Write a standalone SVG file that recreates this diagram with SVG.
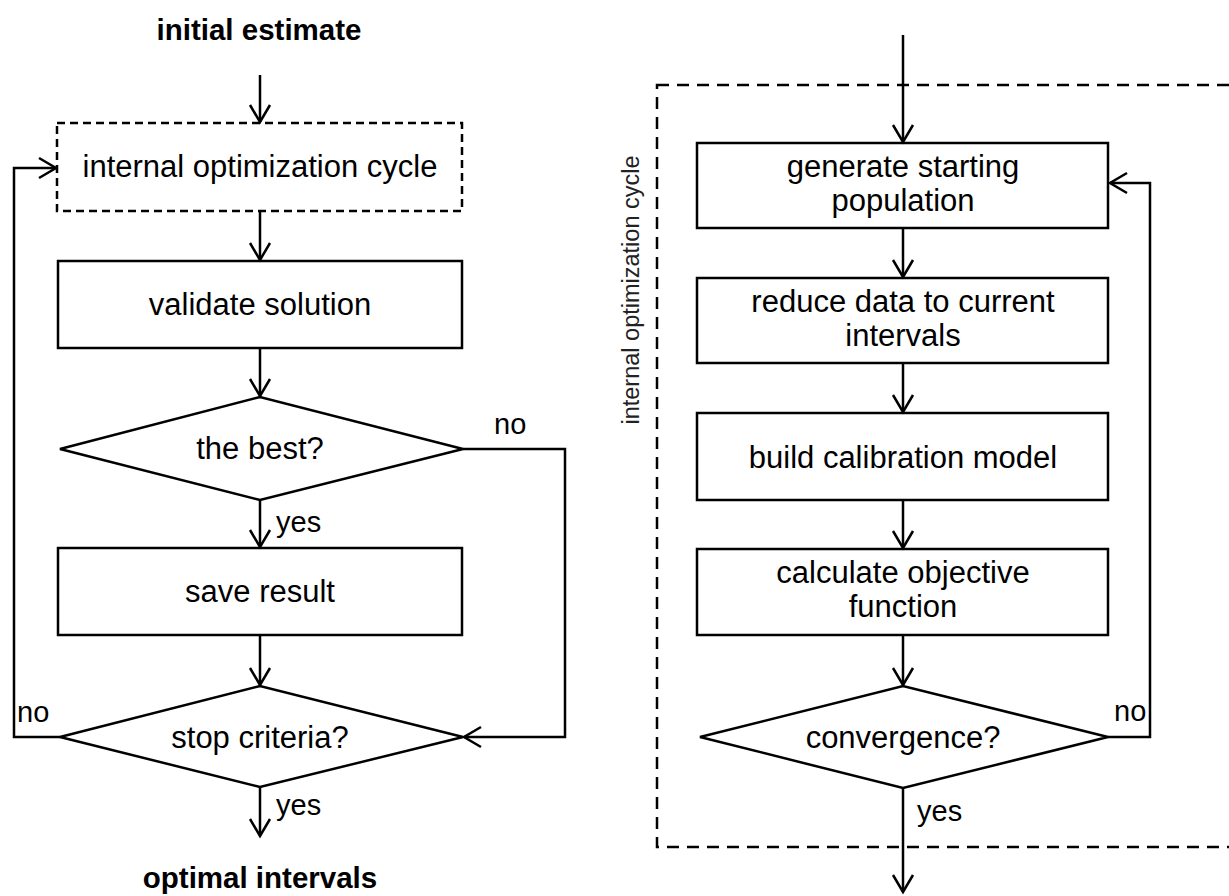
<svg xmlns="http://www.w3.org/2000/svg" width="1229" height="896" viewBox="0 0 1229 896">
<style>
.box{fill:#fff;stroke:#000;stroke-width:2.5}
.dash{fill:none;stroke:#000;stroke-width:2.5;stroke-dasharray:8 5}
.bigdash{fill:none;stroke:#000;stroke-width:2.5;stroke-dasharray:12 8}
.t{font-family:"Liberation Sans",Arial,sans-serif;font-size:31px;fill:#000;text-anchor:middle}
.b{font-family:"Liberation Sans",Arial,sans-serif;font-size:29.5px;font-weight:bold;fill:#000;text-anchor:middle}
.lab{font-family:"Liberation Sans",Arial,sans-serif;font-size:29px;fill:#000}
.rot{font-family:"Liberation Sans",Arial,sans-serif;font-size:23.5px;fill:#222;text-anchor:middle}
.c{fill:none;stroke:#000;stroke-width:2.5;marker-end:url(#ar)}
</style>
<defs>
<marker id="ar" markerUnits="userSpaceOnUse" markerWidth="40" markerHeight="40" refX="20" refY="20" orient="auto" viewBox="0 0 40 40">
<path d="M3,10 L20,20 L3,30" fill="none" stroke="#000" stroke-width="2.5"/>
</marker>
</defs>
<rect width="1229" height="896" fill="#fff"/>

<g id="title-left">
<text class="b" x="259" y="40">initial estimate</text>
<text class="b" x="260" y="888">optimal intervals</text>
</g>

<g id="n-internal"><rect class="dash" x="57" y="123" width="405" height="88"/><text class="t" x="260" y="177">internal optimization cycle</text></g>
<g id="n-validate"><rect class="box" x="58" y="261" width="404" height="87"/><text class="t" x="260" y="315">validate solution</text></g>
<g id="n-best"><polygon class="box" points="60,449 260,397 463,449 260,500"/><text class="t" x="260" y="459">the best?</text></g>
<g id="n-save"><rect class="box" x="58" y="548" width="404" height="87"/><text class="t" x="260" y="602">save result</text></g>
<g id="n-stop"><polygon class="box" points="60,737 260,686 463,737 260,787"/><text class="t" x="260" y="748">stop criteria?</text></g>

<g id="frame"><rect class="bigdash" x="657" y="85" width="590" height="762"/>
<text class="rot" x="639" y="290" transform="rotate(-90 639 290)">internal optimization cycle</text></g>
<g id="n-gen"><rect class="box" x="697" y="143" width="411" height="85"/><text class="t" x="903" y="177">generate starting</text><text class="t" x="903" y="211">population</text></g>
<g id="n-reduce"><rect class="box" x="697" y="278" width="411" height="85"/><text class="t" x="903" y="312">reduce data to current</text><text class="t" x="903" y="346">intervals</text></g>
<g id="n-build"><rect class="box" x="697" y="413" width="411" height="87"/><text class="t" x="903" y="468">build calibration model</text></g>
<g id="n-calc"><rect class="box" x="697" y="549" width="411" height="86"/><text class="t" x="903" y="583">calculate objective</text><text class="t" x="903" y="617">function</text></g>
<g id="n-conv"><polygon class="box" points="700,737 903,686 1108,737 903,788"/><text class="t" x="903" y="748">convergence?</text></g>

<g id="connectors">
<path class="c" d="M260,75 L260,122"/>
<path class="c" d="M260,211 L260,260"/>
<path class="c" d="M260,348 L260,396"/>
<path class="c" d="M260,500 L260,547"/>
<path class="c" d="M260,635 L260,685"/>
<path class="c" d="M260,787 L260,836"/>
<path class="c" d="M463,449 L565,449 L565,737 L464,737"/>
<path class="c" d="M60,737 L14,737 L14,168 L56,168"/>
<path class="c" d="M903,35 L903,142"/>
<path class="c" d="M903,228 L903,277"/>
<path class="c" d="M903,363 L903,412"/>
<path class="c" d="M903,500 L903,548"/>
<path class="c" d="M903,635 L903,685"/>
<path class="c" d="M903,788 L903,892"/>
<path class="c" d="M1108,737 L1150,737 L1150,183 L1110,183"/>
</g>

<g id="labels">
<text class="lab" x="494" y="434">no</text>
<text class="lab" x="276" y="532">yes</text>
<text class="lab" x="17" y="722">no</text>
<text class="lab" x="276" y="815">yes</text>
<text class="lab" x="1114" y="721">no</text>
<text class="lab" x="917" y="821">yes</text>
</g>
</svg>
